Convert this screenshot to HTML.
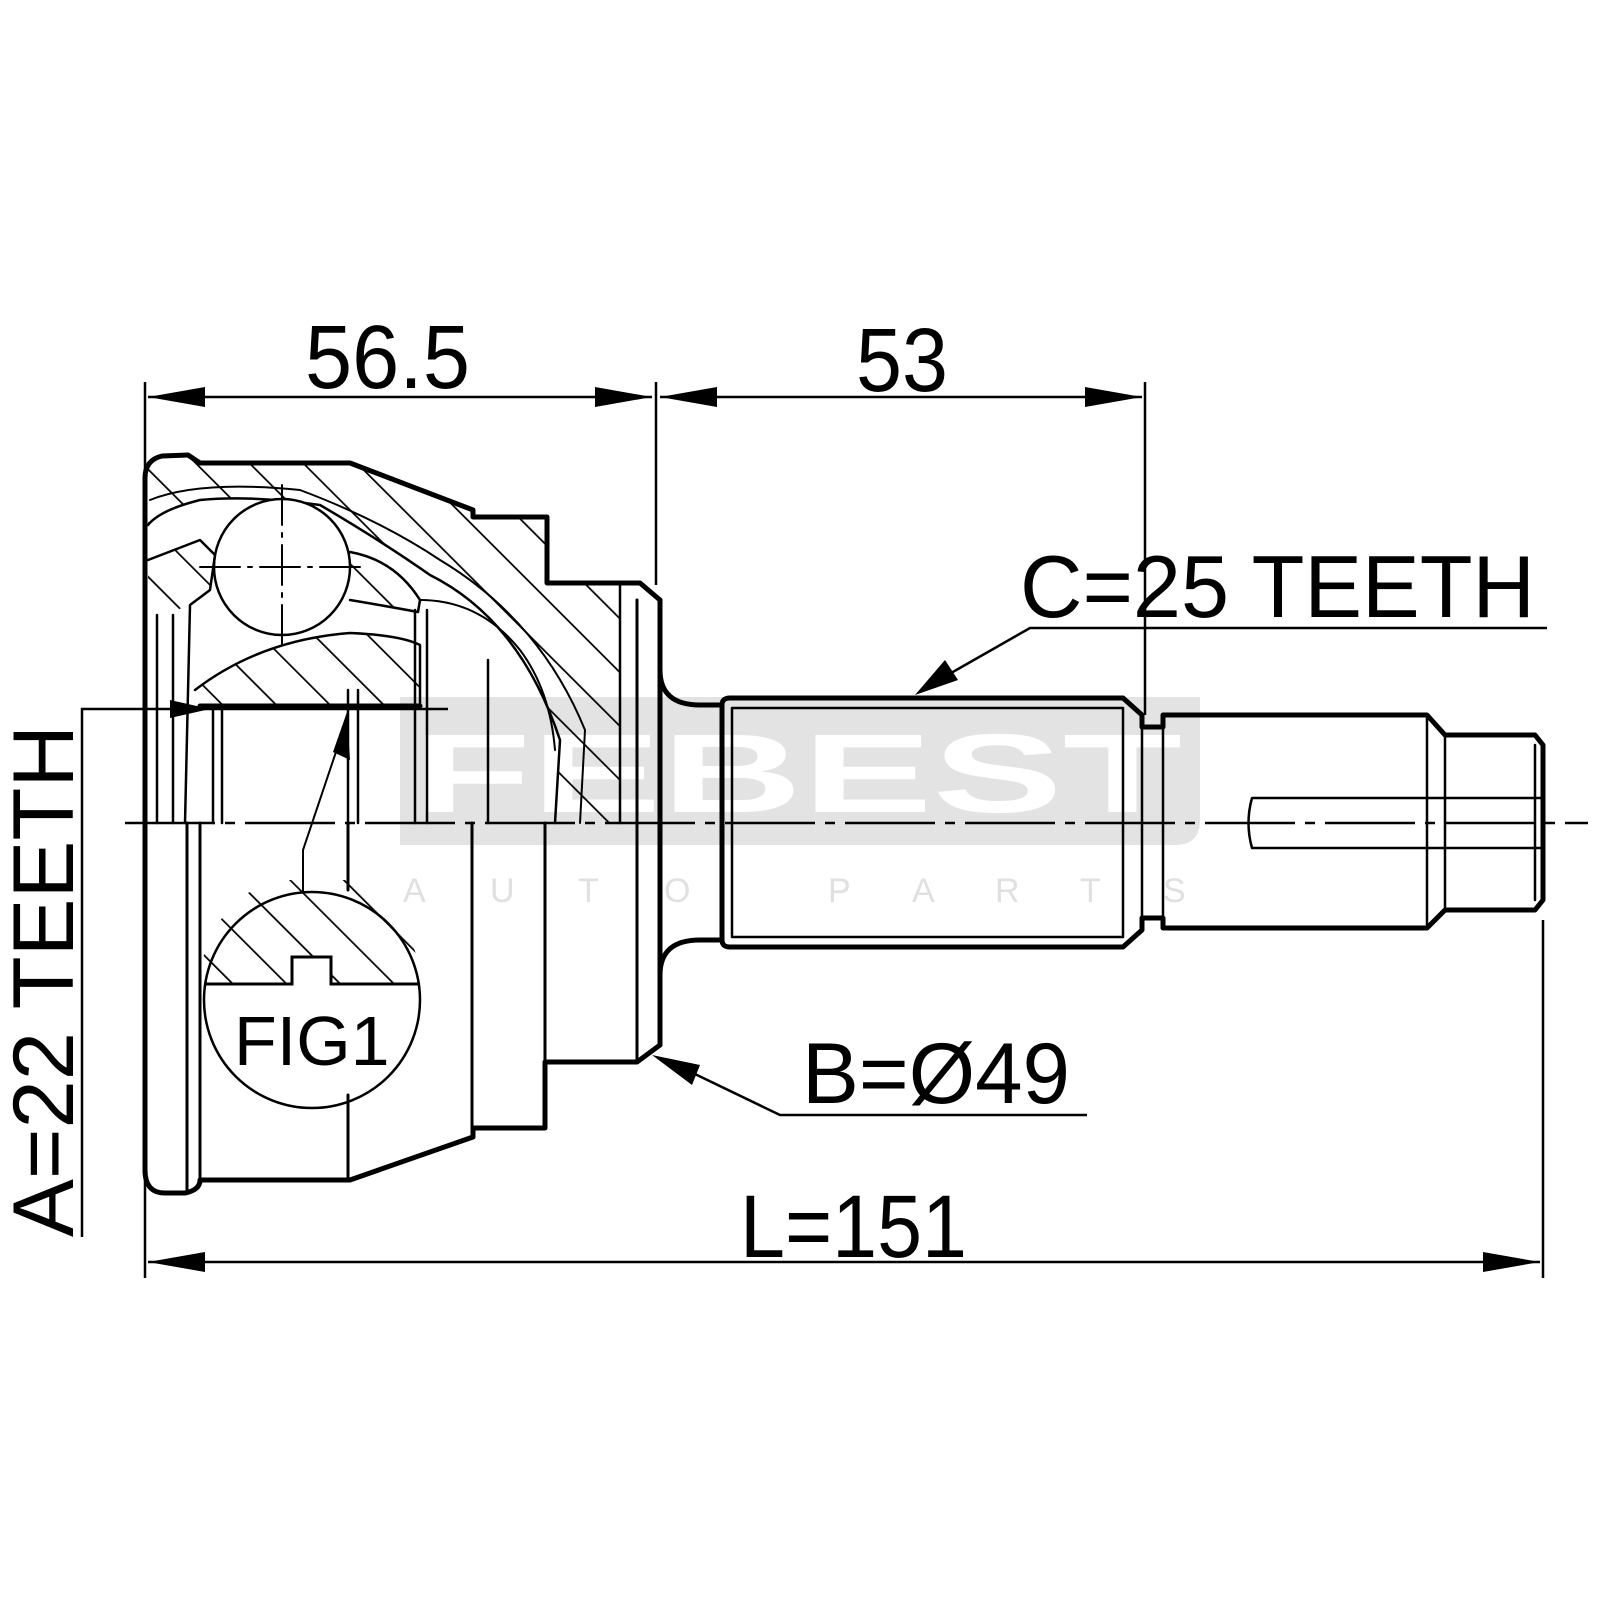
<!DOCTYPE html>
<html><head><meta charset="utf-8"><style>
html,body{margin:0;padding:0;background:#fff;}
svg{display:block;}
text{font-family:"Liberation Sans",sans-serif;}
</style></head><body>
<svg width="1600" height="1600" viewBox="0 0 1600 1600" xmlns="http://www.w3.org/2000/svg">
<defs>
<pattern id="h" patternUnits="userSpaceOnUse" width="38" height="38" patternTransform="rotate(-45)">
<line x1="0" y1="0" x2="0" y2="38" stroke="#000" stroke-width="3.5"/>
</pattern>
</defs>
<rect width="1600" height="1600" fill="#fff"/>

<!-- watermark -->
<path d="M400 697 H1200 V820 Q1200 845 1175 845 H400 Z" fill="#e3e3e3"/>
<text x="412" y="812" font-size="112" font-weight="bold" fill="#fff" textLength="770" lengthAdjust="spacingAndGlyphs">FEBEST</text>
<g fill="#e0e0e0" font-size="34">
<text x="403" y="902">A</text><text x="490" y="902">U</text><text x="578" y="902">T</text><text x="664" y="902">O</text>
<text x="828" y="902">P</text><text x="912" y="902">A</text><text x="995" y="902">R</text><text x="1080" y="902">T</text><text x="1163" y="902">S</text>
</g>

<!-- hatched regions -->
<g fill="url(#h)">
<path d="M148 470 Q150 458 165 456 L188 455 L200 463 L350 463 L473 510 L473 517 L547 517 L547 583 L620 583 L620 823 L555 823 L560 740 Q520 620 430 575 Q380 540 320 505 Q250 495 200 500 Q160 510 148 525 Z"/>
<path d="M148 560 L200 540 L215 555 L210 590 L170 615 L148 615 Z"/>
<path d="M195 690 Q260 640 350 633 Q400 635 420 645 L420 706 L200 706 Z"/>
<path d="M350 552 Q395 560 420 600 L418 612 Q380 605 350 600 Z"/>
</g>

<g fill="none" stroke="#000" stroke-linecap="round" stroke-linejoin="round">
<path d="M145 823 V478 Q145 460 162 456 L188 455 L200 463 L350 463 L473 510 L473 517 L547 517 L547 583 L640 583 L660 600 V670 Q660 705 700 705 L722 705" stroke-width="5"/>
<path d="M145 823 V1170 Q145 1193 165 1193 L185 1193 Q200 1190 200 1180 L350 1180 L473 1137 V1128 L545 1128 V1062 L637 1062 L660 1045 V975 Q660 940 700 940 L722 940" stroke-width="5"/>
<path d="M148 525 Q160 510 200 500 Q250 495 320 505 Q380 540 430 575 Q520 620 560 740 L555 823" stroke-width="2.5"/>
<path d="M150 500 Q200 480 300 490 Q380 520 440 560 Q540 620 585 730 L580 823" stroke-width="2"/>
<path d="M420 600 Q480 600 520 650 Q550 690 555 750" stroke-width="2"/>
<path d="M620 583 V823" stroke-width="2.5"/>
<circle cx="282" cy="567" r="68" stroke-width="2.5" fill="#fff"/>
<path d="M282 485 V650 M200 567 H365" stroke-width="2" stroke-dasharray="40 8 4 8"/>
<path d="M148 560 L200 540 L215 555 L210 590 L190 605 L185 823" stroke-width="2.5"/>
<path d="M350 552 Q395 560 420 600 L418 612 Q380 605 350 600" stroke-width="2.5"/>
<path d="M195 690 Q260 640 350 633 Q400 635 420 645 L420 706" stroke-width="2.5"/>
<path d="M157 615 V823 M173 615 V823 M213 708 V823 M222 708 V823 M348 690 V823 M358 690 V823 M415 610 V823 M427 610 V823 M488 660 V823" stroke-width="2.5"/>
<path d="M200 706 H420" stroke-width="5"/>
<path d="M187 823 V1193 M200 823 V1180 M348 1095 V1180 M348 823 V890 M472 823 V1137 M545 823 V1128 M637 600 V1062" stroke-width="3"/>
<path d="M660 600 V1045" stroke-width="5"/>
<path d="M722 705 Q722 698 730 698 L1123 698 L1142 715 V727 L1163 727 V715 L1427 715 L1445 735 L1535 735 L1543 745 V900 L1535 910 L1445 910 L1427 928 L1163 928 V918 L1142 918 V930 L1123 947 L730 947 Q722 947 722 940 Z" stroke-width="5"/>
<path d="M732 708 H1123 M732 937 H1123 M732 708 V937 M1123 708 V937 M1142 727 V918 M1163 727 V918 M1427 715 V928 M1445 735 V910 M1535 745 V900" stroke-width="2.5"/>
<path d="M1543 798 H1252 Q1245 823 1252 848 H1543" stroke-width="2.5"/>
</g>

<path d="M125 823 H1588" stroke="#000" stroke-width="2.5" stroke-dasharray="90 10 10 10"/>

<!-- FIG1 -->
<clipPath id="fc"><path d="M200 984 A108 108 0 0 1 420 984 Z"/></clipPath>
<rect x="200" y="880" width="230" height="110" fill="url(#h)" clip-path="url(#fc)"/>
<circle cx="312" cy="1000" r="108" fill="none" stroke="#000" stroke-width="2.5"/>
<rect x="292" y="958" width="39" height="26" fill="#fff"/>
<path d="M204 984 H292 V957 H331 V984 H420" fill="none" stroke="#000" stroke-width="3"/>
<text x="234" y="1065" font-size="70">FIG1</text>
<path d="M303 892 V850 L340 740" fill="none" stroke="#000" stroke-width="2"/>
<path d="M347 712 L350 760 L333 752 Z" fill="#000"/>

<path d="M82 1237 V709 H448" fill="none" stroke="#000" stroke-width="2.5"/>
<path d="M210 709 L170 700 L170 718 Z" fill="#000"/>
<text transform="translate(73 1237) rotate(-90)" font-size="86" textLength="512" lengthAdjust="spacingAndGlyphs">A=22 TEETH</text>

<g stroke="#000" stroke-width="2.5">
<path d="M145 382 V823 M145 1180 V1278 M656 382 V585 M1145 382 V715 M1543 920 V1278"/>
<path d="M148 397 H652 M660 397 H1142 M148 1262 H1540"/>
</g>
<g fill="#000">
<path d="M148 397 L205 387 L205 407 Z M652 397 L595 387 L595 407 Z"/>
<path d="M660 397 L717 387 L717 407 Z M1142 397 L1085 387 L1085 407 Z"/>
<path d="M148 1262 L205 1252 L205 1272 Z M1540 1262 L1483 1252 L1483 1272 Z"/>
</g>
<text x="305" y="388" font-size="90" textLength="165" lengthAdjust="spacingAndGlyphs">56.5</text>
<text x="856" y="391" font-size="90" textLength="92" lengthAdjust="spacingAndGlyphs">53</text>
<text x="740" y="1257" font-size="89" textLength="227" lengthAdjust="spacingAndGlyphs">L=151</text>

<text x="1020" y="617" font-size="88" textLength="515" lengthAdjust="spacingAndGlyphs">C=25 TEETH</text>
<path d="M1547 628 H1030 L930 685" fill="none" stroke="#000" stroke-width="2.5"/>
<path d="M915 695 L945 660 L958 680 Z" fill="#000"/>

<text x="802" y="1103" font-size="86" textLength="268" lengthAdjust="spacingAndGlyphs">B=Ø49</text>
<path d="M1087 1115 H780 L670 1062" fill="none" stroke="#000" stroke-width="2.5"/>
<path d="M652 1055 L700 1065 L692 1085 Z" fill="#000"/>
</svg>
</body></html>
